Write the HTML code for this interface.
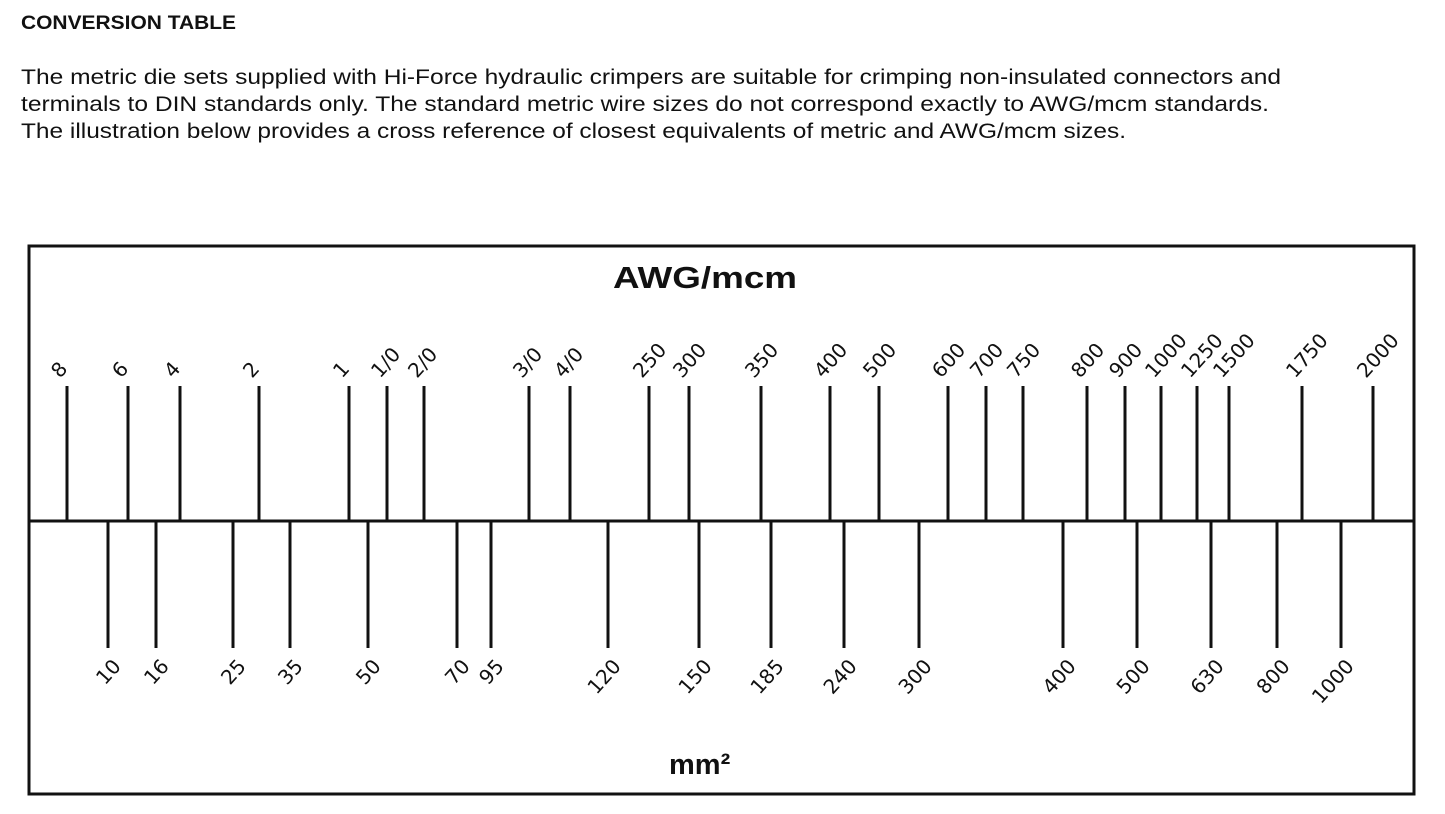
<!DOCTYPE html>
<html><head><meta charset="utf-8"><style>
body{margin:0;width:1445px;height:809px;background:#fff;overflow:hidden}
</style></head><body>
<svg width="1445" height="809" xmlns="http://www.w3.org/2000/svg" font-family="'Liberation Sans', 'DejaVu Sans', sans-serif" fill="#111">
<text x="21" y="29" font-size="19" font-weight="bold" textLength="215" lengthAdjust="spacingAndGlyphs">CONVERSION TABLE</text>
<text x="21" y="84" font-size="21" textLength="1260" lengthAdjust="spacingAndGlyphs">The metric die sets supplied with Hi-Force hydraulic crimpers are suitable for crimping non-insulated connectors and</text>
<text x="21" y="111" font-size="21" textLength="1248" lengthAdjust="spacingAndGlyphs">terminals to DIN standards only. The standard metric wire sizes do not correspond exactly to AWG/mcm standards.</text>
<text x="21" y="138" font-size="21" textLength="1105" lengthAdjust="spacingAndGlyphs">The illustration below provides a cross reference of closest equivalents of metric and AWG/mcm sizes.</text>
<rect x="29" y="246" width="1385" height="548" fill="none" stroke="#111" stroke-width="3"/>
<line x1="29" y1="521" x2="1414" y2="521" stroke="#111" stroke-width="3"/>
<text x="613" y="288" font-size="31" font-weight="bold" textLength="184" lengthAdjust="spacingAndGlyphs">AWG/mcm</text>
<text x="669" y="774" font-size="29" font-weight="bold">mm²</text>
</svg>
<script>
var ns="http://www.w3.org/2000/svg",s=document.querySelector('svg');
function add(tag,at,txt){var e=document.createElementNS(ns,tag);for(var k in at)e.setAttribute(k,at[k]);if(txt)e.textContent=txt;s.appendChild(e);}
var up=[[67,"8"],[128,"6"],[180,"4"],[259,"2"],[349,"1"],[387,"1/0"],[424,"2/0"],[529,"3/0"],[570,"4/0"],[649,"250"],[689,"300"],[761,"350"],[830,"400"],[879,"500"],[948,"600"],[986,"700"],[1023,"750"],[1087,"800"],[1125,"900"],[1161,"1000"],[1197,"1250"],[1229,"1500"],[1302,"1750"],[1373,"2000"]];
var dn=[[108,"10"],[156,"16"],[233,"25"],[290,"35"],[368,"50"],[457,"70"],[491,"95"],[608,"120"],[699,"150"],[771,"185"],[844,"240"],[919,"300"],[1063,"400"],[1137,"500"],[1211,"630"],[1277,"800"],[1341,"1000"]];
up.forEach(function(u){add('line',{x1:u[0],y1:386,x2:u[0],y2:521,stroke:'#111','stroke-width':3});
var x=u[0]-7,y=379;add('text',{x:x,y:y,'font-size':20,'font-family':"'DejaVu Sans', sans-serif",transform:'rotate(-48 '+x+' '+y+')'},u[1]);});
dn.forEach(function(u){add('line',{x1:u[0],y1:521,x2:u[0],y2:648,stroke:'#111','stroke-width':3});
var x=u[0]+14,y=667;add('text',{x:x,y:y,'font-size':20,'font-family':"'DejaVu Sans', sans-serif",'text-anchor':'end',transform:'rotate(-48 '+x+' '+y+')'},u[1]);});
</script>
</body></html>
